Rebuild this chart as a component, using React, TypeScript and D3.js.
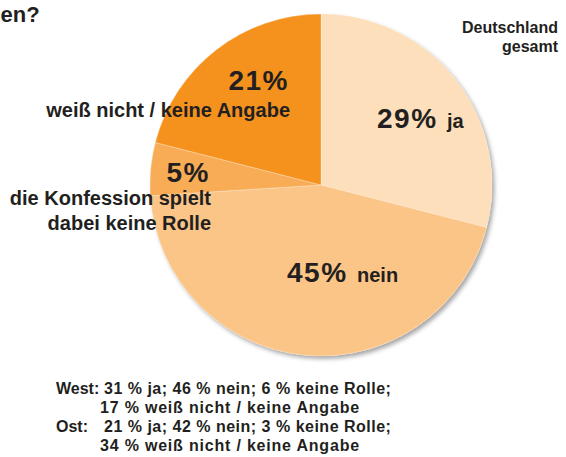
import React from "react";
import * as d3 from "d3";

const categories = ["ja", "nein", "die Konfession spielt dabei keine Rolle", "weiß nicht / keine Angabe"];
const values = [29, 45, 5, 21];
const colors = ["#FDDFBC", "#FBC588", "#F8AC56", "#F5921E"];
const footerLabels = ["West:", "", "Ost:", ""];
const footerLines = [
  "31 % ja; 46 % nein; 6 % keine Rolle;",
  "17 % weiß nicht / keine Angabe",
  "21 % ja; 42 % nein; 3 % keine Rolle;",
  "34 % weiß nicht / keine Angabe",
];

const W = 566;
const H = 457;
const cx = 321;
const cy = 185;
const R = 171;
const FONT = "'Liberation Sans', Arial, Helvetica, sans-serif";
const TXT = "#231F20";

export default function App() {
  const pie = d3.pie<number>().sort(null).startAngle(0).endAngle(2 * Math.PI).value((d) => d);
  const arcs = pie(values);
  const arc = d3.arc<d3.PieArcDatum<number>>().innerRadius(0).outerRadius(R);

  const pct = (i: number) => `${values[i]}%`;
  const footerY = d3.range(footerLines.length).map((i) => 394 + i * 19);

  return (
    <svg
      width={W}
      height={H}
      style={{ position: "absolute", left: 0, top: 0, background: "#fff" }}
      fontFamily={FONT}
    >
      <defs>
        <filter id="sh" x="-20%" y="-20%" width="140%" height="140%">
          <feDropShadow dx="2.5" dy="3" stdDeviation="2" floodColor="#000" floodOpacity="0.35" />
        </filter>
      </defs>
      <rect width={W} height={H} fill="#fff" />
      <text x={0.5} y={22} fontSize={22} fontWeight="bold" fill={TXT}>
        en?
      </text>
      <g transform={`translate(${cx},${cy})`}>
        <circle r={R} fill={colors[1]} filter="url(#sh)" />
        {arcs.map((a, i) => (
          <path key={categories[i]} d={arc(a) || ""} fill={colors[i]} stroke="#fff" strokeOpacity={0.5} strokeWidth={0.6} />
        ))}
      </g>
      <g fill={TXT} fontWeight="bold">
        <text x={558} y={33} fontSize={16} textAnchor="end">Deutschland</text>
        <text x={558} y={52} fontSize={16} textAnchor="end">gesamt</text>

        <text x={289} y={90} fontSize={28} textAnchor="end" letterSpacing={1.5}>{pct(3)}</text>
        <text x={290} y={117} fontSize={20} textAnchor="end">{categories[3]}</text>

        <text x={377} y={128} fontSize={28} letterSpacing={1.5}>{pct(0)}</text>
        <text x={447} y={128} fontSize={20}>{categories[0]}</text>

        <text x={210} y={182} fontSize={28} textAnchor="end" letterSpacing={1.5}>{pct(2)}</text>
        <text x={211} y={205} fontSize={20} textAnchor="end">die Konfession spielt</text>
        <text x={211} y={230} fontSize={20} textAnchor="end">dabei keine Rolle</text>

        <text x={287} y={282} fontSize={28} letterSpacing={1.5}>{pct(1)}</text>
        <text x={357} y={282} fontSize={20}>{categories[1]}</text>
      </g>
      <g fill={TXT} fontWeight="bold" fontSize={16}>
        {footerLines.map((line, i) =>
          footerLabels[i] ? (
            <text key={i} y={footerY[i]}>
              <tspan x={56}>{footerLabels[i]}</tspan>
              <tspan x={104} letterSpacing={0.5}>{line}</tspan>
            </text>
          ) : (
            <text key={i} x={100} y={footerY[i]} letterSpacing={0.8}>{line}</text>
          )
        )}
      </g>
    </svg>
  );
}
